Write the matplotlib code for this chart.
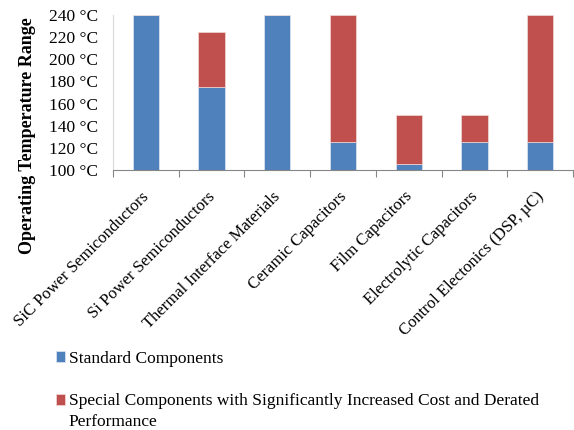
import matplotlib
matplotlib.use("Agg")
import matplotlib.pyplot as plt
from matplotlib.transforms import ScaledTranslation
import numpy as np

categories = ["SiC Power Semiconductors", "Si Power Semiconductors",
              "Thermal Interface Materials", "Ceramic Capacitors",
              "Film Capacitors", "Electrolytic Capacitors",
              "Control Electonics (DSP, \u00b5C)"]
standard_max = [240, 175, 240, 125, 105, 125, 125]
special_max = [240, 225, 240, 240, 150, 150, 240]
y_ticks = [100, 120, 140, 160, 180, 200, 220, 240]
y_ticklabels = [f"{v} \u00b0C" for v in y_ticks]
series_names = ["Standard Components",
                "Special Components with Significantly Increased Cost and Derated\nPerformance"]

BLUE = "#4F81BD"
RED = "#C0504D"
GRAY = "#868686"

plt.rcParams["font.family"] = ["Liberation Serif", "DejaVu Serif"]

fig = plt.figure(figsize=(5.74, 4.30), dpi=100)
ax = fig.add_axes([113/574, 1 - 170/430, (573 - 113)/574, (170 - 15)/430])

x = np.arange(len(categories))
base = 100
std_h = np.array(standard_max) - base
spec_h = np.array(special_max) - np.array(standard_max)
b1 = ax.bar(x, std_h, bottom=base, width=0.4, color=BLUE, edgecolor="#dfe6f1",
            linewidth=0.5, label=series_names[0])
b2 = ax.bar(x, spec_h, bottom=np.array(standard_max), width=0.4, color=RED,
            edgecolor="#f0d8d7", linewidth=0.5, label=series_names[1])

ax.set_xlim(-0.5, len(categories) - 0.5)
ax.set_ylim(100, 240)
ax.set_yticks(y_ticks)
ax.set_yticklabels(y_ticklabels, fontsize=12.5)
ax.tick_params(axis="y", length=0, pad=11)

ax.set_xticks(x)
ax.set_xticklabels(categories, fontsize=12, rotation=45, ha="right",
                   rotation_mode="anchor", va="center")
ax.tick_params(axis="x", which="major", length=0, pad=17.5)
ax.set_xticks(np.arange(len(categories) + 1) - 0.5, minor=True)
ax.tick_params(axis="x", which="minor", length=5, color=GRAY, width=0.8, direction="out")
for lbl in ax.get_xticklabels():
    lbl.set_transform(lbl.get_transform() + ScaledTranslation(1/100, 0, fig.dpi_scale_trans))

for s in ["top", "right"]:
    ax.spines[s].set_visible(False)
ax.spines["bottom"].set_color(GRAY)
ax.spines["left"].set_color("#d9d9d9")
ax.spines["left"].set_linewidth(0.8)

fig.text(28/574, 1 - 136/430, "Operating Temperature Range", rotation=90,
         fontsize=13, fontweight="bold", ha="center", va="center")

leg = fig.legend(handles=[b1, b2], loc="upper left",
                 bbox_to_anchor=(47/574, 1 - 342/430), frameon=False,
                 fontsize=12.5, handlelength=0.55, handleheight=0.55,
                 handletextpad=0.2, labelspacing=1.5, borderpad=0)
leg.get_texts()[1].set_linespacing(1.4)
h2 = leg.legend_handles[1]
h2.set_y(h2.get_y() + 8.3)

fig.savefig("out.png", dpi=100)
